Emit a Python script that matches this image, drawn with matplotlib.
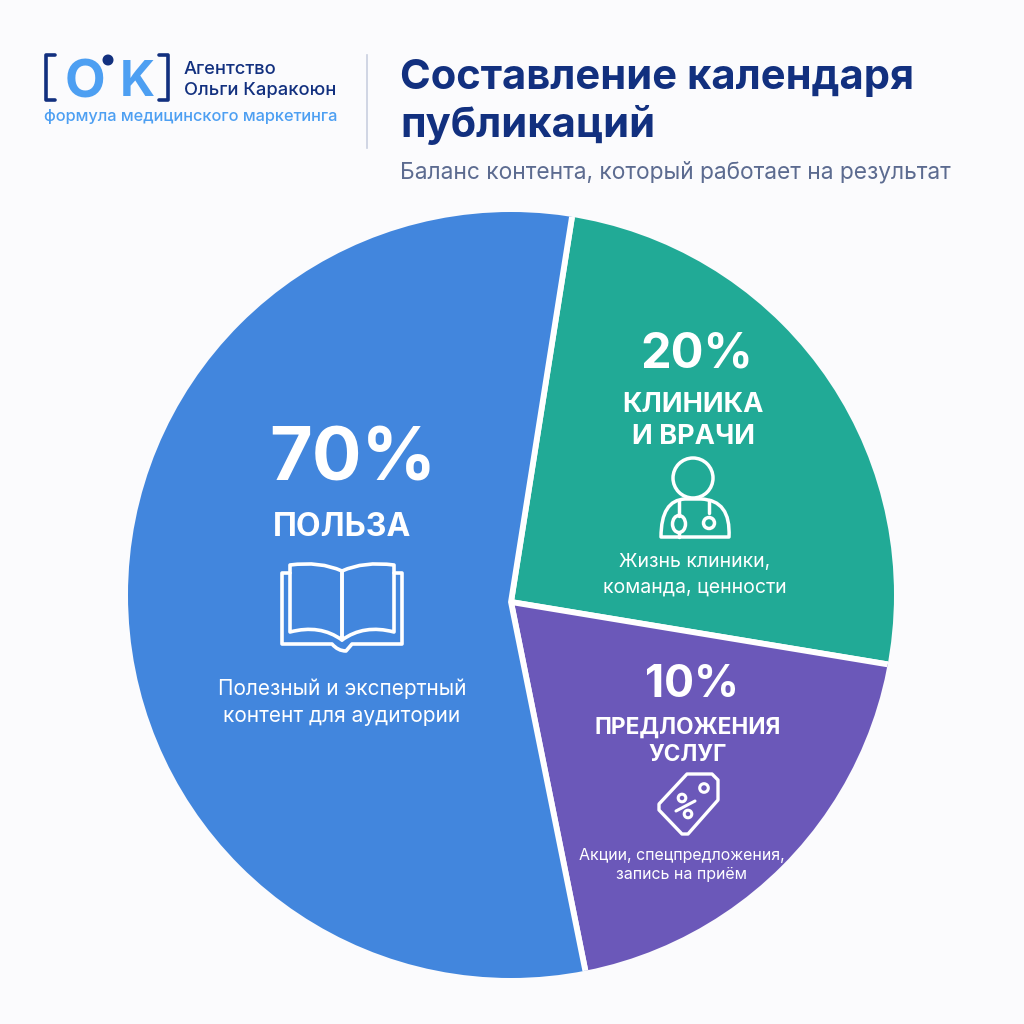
# Content calendar pie chart
import matplotlib
matplotlib.use("Agg")
import matplotlib.pyplot as plt
from matplotlib.patches import Circle, PathPatch
from matplotlib.path import Path
from matplotlib.transforms import Affine2D

plt.rcParams["font.family"] = ["Inter", "DejaVu Sans"]

# Slices, clockwise from the top (the sweep is what the picture shows, in degrees)
sliceNames = ["КЛИНИКА\nИ ВРАЧИ", "ПРЕДЛОЖЕНИЯ\nУСЛУГ", "ПОЛЬЗА"]
sliceLabels = ["20%", "10%", "70%"]
sliceSweep = [90.4, 69.2, 200.4]
sliceColors = ["#21aa96", "#6b58b9", "#4286dd"]
sliceNotes = ["Жизнь клиники,\nкоманда, ценности",
              "Акции, спецпредложения,\nзапись на приём",
              "Полезный и экспертный\nконтент для аудитории"]

NAVY = "#12307f"
SKY = "#4d9ff2"
WHITE = "white"

fig = plt.figure(figsize=(10.24, 10.24), dpi=100, facecolor="#fbfbfd")
ax = fig.add_axes([0, 0, 1, 1])


def Y(py):
    # picture rows run downwards, the axes upwards
    return 1024 - py


# pie: the apex sits a little below the middle of the circle
wedges, _ = ax.pie(sliceSweep, colors=sliceColors, startangle=81, counterclock=False,
                   center=(511, Y(602)), radius=420, frame=True,
                   wedgeprops={"edgecolor": "white", "linewidth": 4.2})
ax.set_xlim(0, 1024)
ax.set_ylim(0, 1024)
ax.set_aspect("equal")
ax.axis("off")

outline = Circle((511, Y(595)), 383, transform=ax.transData)
for w in wedges:
    w.set_clip_on(True)
    w.set_clip_path(outline)


def label(x, py, s, size, color=WHITE, weight="normal", ha="center", ls=1.2):
    ax.text(x, Y(py), s, fontsize=size, color=color, fontweight=weight, ha=ha,
            va="center", linespacing=ls)


def stroke(points, color=WHITE, lw=2.5, closed=False):
    # points in picture pixels; a 3 item point is (x, y, "c") = curve control
    verts = []
    codes = []
    for i, p in enumerate(points):
        verts.append((p[0], Y(p[1])))
        if i == 0:
            codes.append(Path.MOVETO)
        elif len(p) == 3 or (len(points[i - 1]) == 3):
            codes.append(Path.CURVE3)
        else:
            codes.append(Path.LINETO)
    if closed:
        verts.append(verts[0])
        codes.append(Path.CLOSEPOLY)
    ax.add_patch(PathPatch(Path(verts, codes), fill=False, edgecolor=color, linewidth=lw,
                           capstyle="round", joinstyle="round"))


def ring(x, py, r, color=WHITE, lw=2.5):
    ax.add_patch(Circle((x, Y(py)), r, fill=False, edgecolor=color, linewidth=lw))


# logo
stroke([(55, 55), (46, 55), (46, 100), (55, 100)], NAVY, 2.6)
stroke([(159, 55), (168, 55), (168, 100), (159, 100)], NAVY, 2.6)
label(85, 84, "O", 38, SKY, "bold")
label(137, 83, "K", 35, SKY, "bold")
ax.add_patch(Circle((108, Y(60)), 4.8, color=NAVY))
label(184, 70, "Агентство", 13.2, NAVY, "medium", "left")
label(184, 91, "Ольги Каракоюн", 13.2, NAVY, "medium", "left")
label(44, 116, "формула медицинского маркетинга", 11.8, SKY, "medium", "left")
ax.plot([367, 367], [Y(55), Y(148)], color="#c9cfe0", lw=1.2)

# heading
label(400, 78, "Составление календаря", 30, NAVY, "bold", "left")
label(400, 125, "публикаций", 30, NAVY, "bold", "left")
label(400, 172, "Баланс контента, который работает на результат", 16.4, "#5c6b90", "normal", "left")

# slice texts
label(697, 354, sliceLabels[0], 35, weight="bold")
label(693, 421, sliceNames[0], 19.6, weight="bold", ls=1.3)
label(695, 575, sliceNotes[0], 14, ls=1.5)

label(692, 685, sliceLabels[1], 32, weight="bold")
label(688, 741, sliceNames[1], 16.3, weight="bold", ls=1.3)
label(682, 865, sliceNotes[1], 11.5, ls=1.4)

label(353, 461, sliceLabels[2], 53, weight="bold")
label(342, 528, sliceNames[2], 23, weight="bold")
label(342, 702, sliceNotes[2], 15, ls=1.45)

# book icon
stroke([(290, 565), (320, 561, "c"), (342, 571), (342, 640), (320, 624, "c"), (290, 632)], lw=2.6, closed=True)
stroke([(394, 565), (364, 561, "c"), (342, 571), (342, 640), (364, 624, "c"), (394, 632)], lw=2.6, closed=True)
stroke([(290, 573), (282, 573), (282, 644), (332, 644), (338, 651, "c"), (346, 651), (352, 644),
        (402, 644), (402, 573), (394, 573)], lw=2.6)

# doctor icon
ring(693, 478, 20)
stroke([(661, 537), (661, 500, "c"), (685, 499), (701, 499), (731, 500, "c"), (729, 537)], closed=True)
stroke([(679, 500), (679, 516)])
ax.add_patch(PathPatch(Path.unit_circle().transformed(Affine2D().scale(6.5, 8.5).translate(679, Y(524))),
                       fill=False, edgecolor=WHITE, linewidth=2.5))
stroke([(679, 533), (679, 537)])
stroke([(709, 500), (709, 513)])
ring(709, 523, 5.5)

# price tag icon
stroke([(687, 774), (712, 774), (718, 780), (718, 800), (688, 834), (682, 834), (659, 810), (659, 804)],
       lw=2.4, closed=True)
ring(704, 788, 4.3, lw=2.2)
ring(682, 798, 3.8, lw=2.2)
ring(688, 814, 3.8, lw=2.2)
stroke([(676, 811), (695, 801)], lw=2.2)

plt.savefig("out.png", dpi=100, facecolor=fig.get_facecolor())
